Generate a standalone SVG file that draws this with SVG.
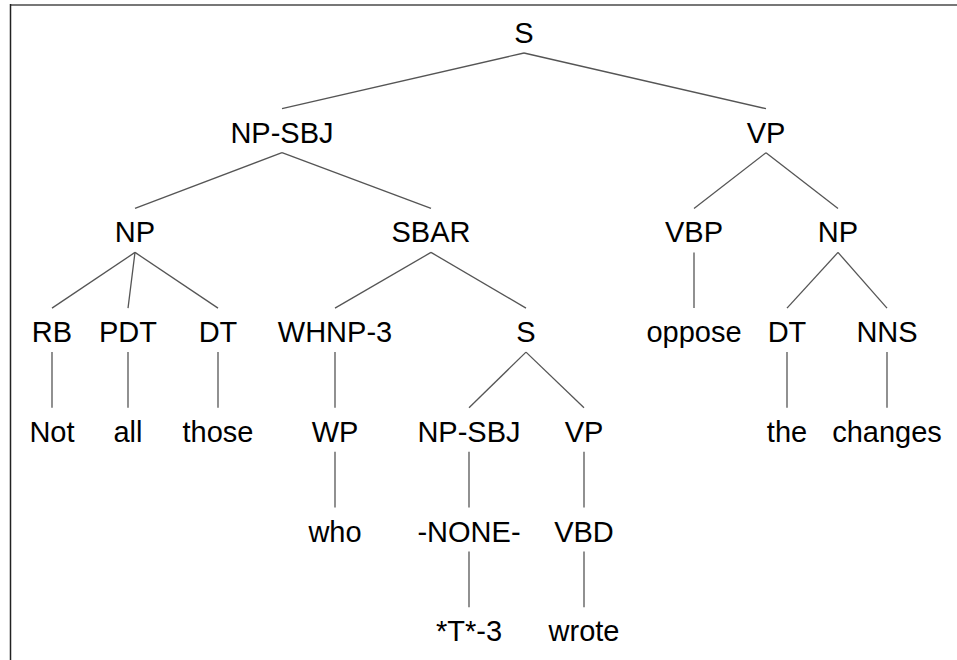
<svg xmlns="http://www.w3.org/2000/svg" width="957" height="660" viewBox="0 0 957 660">
<style>
text{font-family:"Liberation Sans",Arial,sans-serif;font-size:29px;fill:#000;text-anchor:middle}
.e line{stroke:#555;stroke-width:1.3;fill:none}
</style>
<rect x="0" y="0" width="957" height="660" fill="#fff"/>
<rect x="10" y="4" width="947" height="2" fill="#777"/>
<line x1="10.5" y1="4" x2="10.5" y2="660" stroke="#222" stroke-width="1.5"/>
<g id="connectors" class="e">
<line x1="524" y1="53" x2="282" y2="108.7"/>
<line x1="524" y1="53" x2="766" y2="108.7"/>
<line x1="282" y1="152.7" x2="135" y2="208.4"/>
<line x1="282" y1="152.7" x2="431" y2="208.4"/>
<line x1="766" y1="152.7" x2="694" y2="208.4"/>
<line x1="766" y1="152.7" x2="838" y2="208.4"/>
<line x1="135" y1="252.4" x2="52" y2="308.1"/>
<line x1="135" y1="252.4" x2="128" y2="308.1"/>
<line x1="135" y1="252.4" x2="218" y2="308.1"/>
<line x1="431" y1="252.4" x2="335" y2="308.1"/>
<line x1="431" y1="252.4" x2="526" y2="308.1"/>
<line x1="694" y1="252.4" x2="694" y2="308.1"/>
<line x1="838" y1="252.4" x2="787" y2="308.1"/>
<line x1="838" y1="252.4" x2="887" y2="308.1"/>
<line x1="52" y1="352.1" x2="52" y2="407.8"/>
<line x1="128" y1="352.1" x2="128" y2="407.8"/>
<line x1="218" y1="352.1" x2="218" y2="407.8"/>
<line x1="335" y1="352.1" x2="335" y2="407.8"/>
<line x1="526" y1="352.1" x2="469" y2="407.8"/>
<line x1="526" y1="352.1" x2="584" y2="407.8"/>
<line x1="787" y1="352.1" x2="787" y2="407.8"/>
<line x1="887" y1="352.1" x2="887" y2="407.8"/>
<line x1="335" y1="451.8" x2="335" y2="507.5"/>
<line x1="469" y1="451.8" x2="469" y2="507.5"/>
<line x1="584" y1="451.8" x2="584" y2="507.5"/>
<line x1="469" y1="551.5" x2="469" y2="607.2"/>
<line x1="584" y1="551.5" x2="584" y2="607.2"/>
</g>
<g id="n-S"><text x="524" y="43">S</text></g>
<g id="n-NP-SBJ"><text x="282" y="142.7">NP-SBJ</text></g>
<g id="n-VP"><text x="766" y="142.7">VP</text></g>
<g id="n-NP1"><text x="135" y="242.4">NP</text></g>
<g id="n-SBAR"><text x="431" y="242.4">SBAR</text></g>
<g id="n-VBP"><text x="694" y="242.4">VBP</text></g>
<g id="n-NP2"><text x="838" y="242.4">NP</text></g>
<g id="n-RB"><text x="52" y="342.1">RB</text></g>
<g id="n-PDT"><text x="128" y="342.1">PDT</text></g>
<g id="n-DT1"><text x="218" y="342.1">DT</text></g>
<g id="n-WHNP"><text x="335" y="342.1">WHNP-3</text></g>
<g id="n-S2"><text x="526" y="342.1">S</text></g>
<g id="n-oppose"><text x="694" y="342.1">oppose</text></g>
<g id="n-DT2"><text x="787" y="342.1">DT</text></g>
<g id="n-NNS"><text x="887" y="342.1">NNS</text></g>
<g id="n-Not"><text x="52" y="441.8">Not</text></g>
<g id="n-all"><text x="128" y="441.8">all</text></g>
<g id="n-those"><text x="218" y="441.8">those</text></g>
<g id="n-WP"><text x="335" y="441.8">WP</text></g>
<g id="n-NP-SBJ2"><text x="469" y="441.8">NP-SBJ</text></g>
<g id="n-VP2"><text x="584" y="441.8">VP</text></g>
<g id="n-the"><text x="787" y="441.8">the</text></g>
<g id="n-changes"><text x="887" y="441.8">changes</text></g>
<g id="n-who"><text x="335" y="541.5">who</text></g>
<g id="n-NONE"><text x="469" y="541.5">-NONE-</text></g>
<g id="n-VBD"><text x="584" y="541.5">VBD</text></g>
<g id="n-T3"><text x="469" y="641.2">*T*-3</text></g>
<g id="n-wrote"><text x="584" y="641.2">wrote</text></g>
</svg>
